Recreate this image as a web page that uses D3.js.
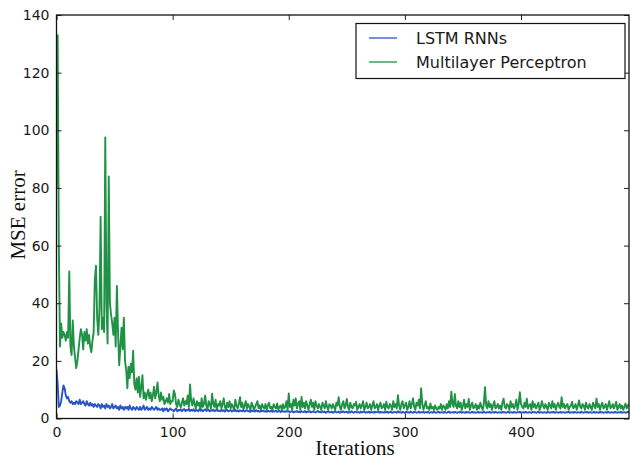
<!DOCTYPE html>
<html><head><meta charset="utf-8">
<script src="https://cdn.jsdelivr.net/npm/d3@7/dist/d3.min.js"></script>
<style>html,body{margin:0;padding:0;background:#fff;}svg{display:block;}</style>
</head><body>
<svg id="chart" width="630" height="461"></svg>
<script>
const seriesNames = ["LSTM RNNs", "Multilayer Perceptron"];
const xTicks = [0, 100, 200, 300, 400];
const yTicks = [0, 20, 40, 60, 80, 100, 120, 140];

const lstm = [
17,12,4,4.5,6,9,11.5,10.5,8,7,
7.5,6,5.5,6,5,5.5,5,6,5.5,5,
6.5,5,5.5,6,5,4.5,6,5,4.5,5.5,
4.5,5,4,5,4.5,4,5,4.5,3.5,5,
4,4.5,3.5,5,4,4.5,3.5,4,5,3.5,
4,4.5,3.5,4,3,4.5,3.5,4,3,4,
3.5,4,3,4.5,3.5,3,4,3.5,3,4,
3.5,3,4,3,3.5,4.5,3,3.5,4,3,
3.5,3,4,3.5,3,3.5,4,3,3.5,3,
3,3.5,2.5,3.5,3,3.5,2.5,3,3.5,3,
3,2.5,3,3.5,2.5,3,2.8,3.2,2.5,3,3.3,2.6,3,2.8,3.4,2.6,3,2.7,3.2,2.5,
3,2.8,2.5,3.2,2.7,3,2.5,2.9,3.2,2.6,2.8,3,2.5,2.9,2.7,3.1,2.5,2.8,3,2.6,
2.8,2.5,3,2.6,2.9,2.4,2.8,3,2.5,2.7,2.9,2.4,2.8,2.6,3,2.5,2.7,2.4,2.9,2.6,
2.5,2.8,2.4,2.7,2.9,2.5,2.6,2.3,2.8,2.5,2.7,2.4,2.9,2.5,2.6,2.3,2.7,2.5,2.8,2.4,
2.6,2.3,2.7,2.5,2.4,2.8,2.3,2.6,2.4,2.7,2.3,2.5,2.6,2.2,2.7,2.4,2.5,2.3,2.6,2.4,
2.5,2.2,2.4,2.6,2.1,2.4,2.3,2.6,2.2,2.4,2.1,2.5,2.3,2.2,2.6,2.1,2.4,2.3,2.5,2.1,
2.3,2.5,2.2,2.1,2.4,2.6,2.2,2.3,2.1,2.5,2.2,2.4,2.0,2.3,2.5,2.1,2.2,2.4,2.0,2.3,
2.5,2.1,2.2,2.4,2.0,2.3,2.2,2.5,2.1,2.2,2.4,2.0,2.3,2.1,2.5,2.2,2.0,2.3,2.4,2.1,
2.2,2.0,2.4,2.1,2.3,2.5,2.0,2.2,2.1,2.4,2.0,2.3,2.2,2.0,2.4,2.1,2.2,2.5,2.0,2.3,
2.1,2.2,2.0,2.4,2.1,2.3,2.0,2.2,2.4,2.0,2.1,2.3,2.2,2.0,2.5,2.1,2.2,2.0,2.3,2.1,
2.0,2.3,2.1,2.2,2.0,2.4,2.1,2.0,2.3,2.2,2.0,2.1,2.4,2.0,2.2,2.1,2.3,2.0,2.2,2.1,
2.3,2.0,2.1,2.2,2.0,2.4,2.1,2.0,2.2,2.3,2.0,2.1,2.2,2.0,2.3,2.1,2.0,2.2,2.4,2.0,
2.1,2.2,2.0,2.3,2.1,2.0,2.2,2.1,2.4,2.0,2.2,2.1,2.0,2.3,2.1,2.2,2.0,2.1,2.3,2.0,
2.2,2.0,2.1,2.3,2.0,2.2,2.1,2.0,2.4,2.1,2.0,2.2,2.1,2.3,2.0,2.1,2.2,2.0,2.3,2.1,
2.0,2.2,2.1,2.0,2.3,2.1,2.2,2.0,2.1,2.4,2.0,2.2,2.1,2.0,2.3,2.1,2.0,2.2,2.1,2.3,
2.0,2.1,2.2,2.0,2.3,2.1,2.0,2.2,2.1,2.0,2.3,2.1,2.2,2.0,2.1,2.4,2.0,2.2,2.1,2.0,
2.2,2.1,2.0,2.3,2.1,2.0,2.2,2.1,2.3,2.0,2.1,2.2,2.0,2.1,2.3,2.0,2.2,2.1,2.0,2.2,
2.1,2.3,2.0,2.1,2.2,2.0,2.3,2.1,2.0,2.2,2.1,2.0,2.4,2.1,2.0,2.2,2.1,2.3,2.0,2.1,
2.2,2.0,2.1,2.3,2.0,2.2,2.1,2.0,2.3,2.1,2.2,2.0,2.1,2.2,2.0,2.3,2.1,2.0,2.2,2.1,
2.0,2.3,2.1,2.0,2.2,2.1,2.3,2.0,2.1,2.2,2.0,2.1,2.3,2.0
];

const mlp = [
80,133,60,25,33,28,30,29,27,30,
28,51,25,22,34,25,21,17.5,20,24,
28,31,29,24,30,27,31,26,29,25,
23,27,30,48,53,35,29,38,70,31,
35,30,97.5,40,26,84,40,36,33,29,
35,25,46,30,18.5,25,31.5,24,35,20,
17,10.5,18,14,19,16,23.5,12,10,14,
9,14.5,7.5,11,15,7,9,6.5,8.5,10,
7,9,6,8,11,7,9,12.5,8,6,
9,6.5,7.5,5,6,7,5.5,8.5,5,6,
6,9.7,8.5,5,4,6.5,5,3.9,5.5,7,4.5,6,5,8,4,11.8,6,4.5,7,5,
3.5,6,4.5,5.5,3,7,4,5,8,4.5,3,6,5,3.5,8.6,5,4,6.5,3,5,
4.5,6,3.5,5,7,4,3,5.5,4,6,3.5,5,4,3,6.5,4.5,3.5,5,7.4,4,
5.5,3,4.5,6,3.5,5,4,3,5.5,4.5,3,4,5,6,3.5,4.5,3,5,4,3.5,
5,3,4.5,5.5,3.5,4,3,5,4,3.5,5.2,3,4,4.5,3,5,3.5,4,6,3,
8.7,4,5,3,6.5,4.5,7,3.5,5,6,3,7.5,4,5.5,3.5,6,4.5,3,5,6.5,
4,5.5,3,6,4.5,3.5,5,4,3,5.5,4.5,3.5,6,4,3,5,4.5,3.5,5,4,
3,5.5,4.5,7.4,4,3,5,6,3.5,4.5,6.8,4,3,5.5,4,3.5,5,4.5,5.8,3,
4,5,3.5,4.5,6,3,4,5.5,3.5,4,5,3,4.5,6,3.5,4,5,3,4.5,5.5,
3.5,4,5,3,5.8,4,3.5,5,4.5,3,6,4,5,3.5,8.1,4.5,3,5,6,3.5,
4.5,5.5,3,4,6,3.5,5,7,4,3,5.5,4.5,6.5,3.5,10.5,5,3,4.5,6,3.5,
4,3,5.2,3.5,4,3,4.5,3.5,3,4,3.5,5,3,4.5,4,3,5,3.5,6,4,
9.3,5,4,8.5,4.5,3.5,6,4,5.5,3,4.5,6.5,3.5,5,4,6.8,3,4.5,5.5,3.5,
4,5,3,4.5,3.5,5.5,4,3,5,10.9,4.5,3.5,6,4,5,3,4.5,6,3.5,4,
5,3.5,4.5,3,5.5,6.9,4,3.5,5,4.5,3,6,4,5,3.5,4.5,6.5,3,5,9.1,
5,4,3.5,5.5,4,6.9,3.5,4.5,5,3,6,4,5,3.5,4.5,5.5,3,4,6,4.5,
3.5,5,4,3,5.5,4.5,3.5,6,4,5,3,4.5,5.5,4,3.5,7.4,4,5,3.5,4.5,
5,3,4,4.5,5.8,3.5,4,5,3,4.5,6.3,4,3.5,5,4.5,3,5.5,4,3.5,5,
4,3,5.5,4.5,3.5,6.9,4,5,3,4.5,5.5,3.5,4,5,3,4.5,6,3.5,4,5,
3.5,4.5,5.8,3,4,5,3.5,4.5,3,4,5.2,3.5,4.5,5
];

const colors = ["#2a55c9", "#1f9246"];

const svg = d3.select("#chart");
const L = 56.5, R = 629, T = 15, B = 418.5;
const x = d3.scaleLinear().domain([0, lstm.length - 1]).range([L, R]);
const y = d3.scaleLinear().domain([0, 140]).range([B, T]);

svg.append("defs").append("clipPath").attr("id", "clip")
  .append("rect").attr("x", L).attr("y", T).attr("width", R - L).attr("height", B - T);

const line = d3.line().x((d, i) => x(i)).y(d => y(d));
const g = svg.append("g").attr("clip-path", "url(#clip)");
g.append("path").datum(mlp).attr("d", line).attr("fill", "none")
  .attr("stroke", colors[1]).attr("stroke-width", 1.9).attr("stroke-linejoin", "round");
g.append("path").datum(lstm).attr("d", line).attr("fill", "none")
  .attr("stroke", colors[0]).attr("stroke-width", 1.9).attr("stroke-linejoin", "round");

const font = "'DejaVu Sans', sans-serif";
const xb = svg.append("g").attr("transform", `translate(0,${B})`)
  .call(d3.axisBottom(x).tickValues(xTicks).tickSizeInner(-5).tickSizeOuter(0).tickPadding(9));
const xt = svg.append("g").attr("transform", `translate(0,${T})`)
  .call(d3.axisTop(x).tickValues(xTicks).tickSizeInner(-5).tickSizeOuter(0).tickFormat(""));
const yl = svg.append("g").attr("transform", `translate(${L},0)`)
  .call(d3.axisLeft(y).tickValues(yTicks).tickSizeInner(-5).tickSizeOuter(0).tickPadding(7));
const yr = svg.append("g").attr("transform", `translate(${R},0)`)
  .call(d3.axisRight(y).tickValues(yTicks).tickSizeInner(-5).tickSizeOuter(0).tickFormat(""));
[xb, xt, yl, yr].forEach(a => {
  a.select(".domain").remove();
  a.selectAll(".tick line").attr("stroke", "#222").attr("stroke-width", 1);
  a.selectAll(".tick text").attr("font-family", font).attr("font-size", 14).attr("fill", "#1a1a1a");
});

svg.append("rect").attr("x", L).attr("y", T).attr("width", R - L).attr("height", B - T)
  .attr("fill", "none").attr("stroke", "#111").attr("stroke-width", 1.3);

svg.append("text").attr("x", 355).attr("y", 455).attr("text-anchor", "middle")
  .attr("font-family", "'Liberation Serif', serif").attr("font-size", 21).attr("fill", "#111").text("Iterations");
svg.append("text").attr("transform", "translate(25,215) rotate(-90)").attr("text-anchor", "middle")
  .attr("font-family", "'Liberation Serif', serif").attr("font-size", 21).attr("fill", "#111").text("MSE error");

const lg = svg.append("g");
lg.append("rect").attr("x", 356).attr("y", 23.5).attr("width", 269).attr("height", 55)
  .attr("fill", "#fff").attr("stroke", "#111").attr("stroke-width", 1.2);
seriesNames.forEach((n, i) => {
  const yy = 38 + i * 24;
  lg.append("line").attr("x1", 369).attr("x2", 397).attr("y1", yy).attr("y2", yy)
    .attr("stroke", colors[i]).attr("stroke-width", 1.3);
  lg.append("text").attr("x", 416).attr("y", yy).attr("dy", "0.35em")
    .attr("font-family", font).attr("font-size", 16).attr("fill", "#1a1a1a").text(n);
});
</script>
</body></html>
